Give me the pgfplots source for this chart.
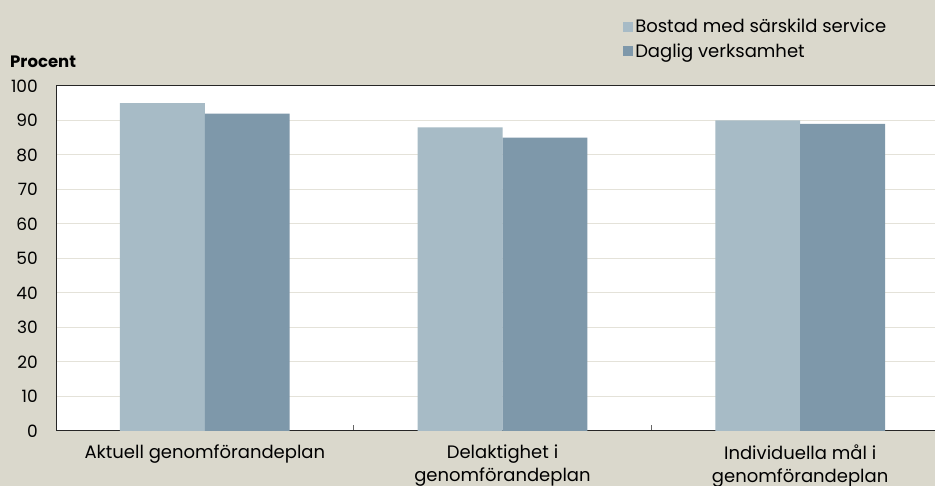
\documentclass[border=0pt]{standalone}
\usepackage{pgfplots}
\pgfplotsset{compat=1.18}
\usepackage{fontspec}
\setmainfont{Poppins}
\definecolor{bg}{HTML}{DAD8CC}
\definecolor{lightbar}{HTML}{A7BBC6}
\definecolor{darkbar}{HTML}{7E98AA}
\definecolor{gridc}{HTML}{E4E2D9}
\begin{document}
\begin{tikzpicture}
\path[use as bounding box, fill=bg] (0bp,0bp) rectangle (935bp,486bp);
\node[anchor=west, font=\fontsize{16.5bp}{19bp}\selectfont\bfseries, inner sep=0pt] at (10bp,424bp) {Procent};
\begin{axis}[
 at={(56bp,55bp)}, anchor=south west,
 scale only axis, width=893bp, height=345bp,
 xmin=-0.5, xmax=2.5, ymin=0, ymax=100,
 ybar=0pt, bar width=0.285,
 axis background/.style={fill=white},
 axis line style={black!85, line width=1bp},
 xtick={0,1,2},
 xticklabels={Aktuell genomförandeplan, {Delaktighet i\\genomförandeplan}, {Individuella mål i\\genomförandeplan}},
 minor xtick={0.5,1.5},
 xtick pos=bottom, ytick pos=left,
 tick align=inside,
 major tick length=0pt, minor tick length=6bp,
 minor tick style={black!60, line width=0.8bp},
 ytick={0,10,...,100},
 ymajorgrids,
 major grid style={gridc, line width=1bp},
 /pgf/number format/assume math mode=true,
 yticklabel style={font=\fontsize{17bp}{20bp}\selectfont, anchor=east, inner sep=0pt, xshift=-18bp},
 xticklabel style={font=\fontsize{18bp}{23bp}\selectfont, align=center, anchor=north, inner sep=0pt, yshift=-14bp},
 legend style={at={(0.635,1.2)}, anchor=north west, draw=none, fill=none,
   font=\fontsize{18bp}{21bp}\selectfont, row sep=5bp, inner sep=0pt,
   nodes={inner sep=2bp}},
 legend cell align=left,
]
\addplot[fill=lightbar, draw=none, legend image code/.code={\fill[lightbar] (0bp,-5bp) rectangle (10bp,5bp);}]
  coordinates {(0,95) (1,88) (2,90)};
\addplot[fill=darkbar, draw=none, legend image code/.code={\fill[darkbar] (0bp,-5bp) rectangle (10bp,5bp);}]
  coordinates {(0,92) (1,85) (2,89)};
\legend{Bostad med särskild service, Daglig verksamhet}
\end{axis}
\end{tikzpicture}
\end{document}
